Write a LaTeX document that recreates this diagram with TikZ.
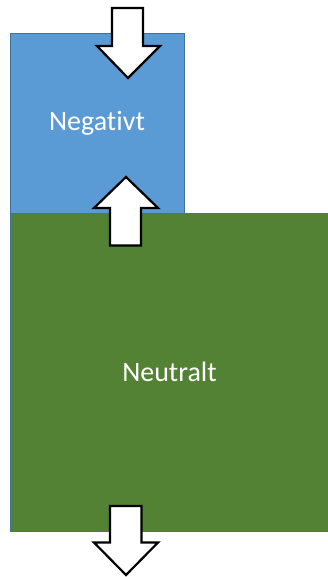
\documentclass[tikz,border=0pt]{standalone}
\usepackage{fontspec}
\setmainfont[Ligatures=NoCommon]{Carlito}

\begin{document}
\begin{tikzpicture}[x=1pt,y=-1pt]

% Farger
\definecolor{colNeg}{HTML}{5B9BD5}
\definecolor{colNeu}{HTML}{548235}
\definecolor{lineBlue}{HTML}{41719C}

\tikzset{
  falt/.style={draw=lineBlue, line width=0.8pt, inner sep=0pt, outer sep=0pt,
    text=white, font=\fontsize{28}{32}\selectfont},
  pil/.style={draw=black, fill=white, line width=2.2pt, line join=miter}
}

\useasboundingbox (0,0) rectangle (327,577);

% Falt
\node[falt, fill=colNeg, minimum width=174pt, minimum height=179.5pt] (negativt) at (97,123.25) {Negativt};
\node[falt, fill=colNeu, minimum width=319pt, minimum height=318pt] (neutralt) at (169.5,372) {Neutralt};

% Pil in uppifran
\draw[pil] (112,8) -- (143,8) -- (143,46) -- (160,46) -- (128,78) -- (97,46) -- (112,46) -- cycle;

% Pil uppat mellan falten
\draw[pil] (126,177) -- (158,208) -- (141,208) -- (141,245.5) -- (110,245.5) -- (110,208) -- (94,208) -- cycle;

% Pil ut nedtill
\draw[pil] (110,506) -- (141.5,506) -- (141.5,542.5) -- (158,542.5) -- (126,575) -- (94,542.5) -- (110,542.5) -- cycle;

\end{tikzpicture}
\end{document}
